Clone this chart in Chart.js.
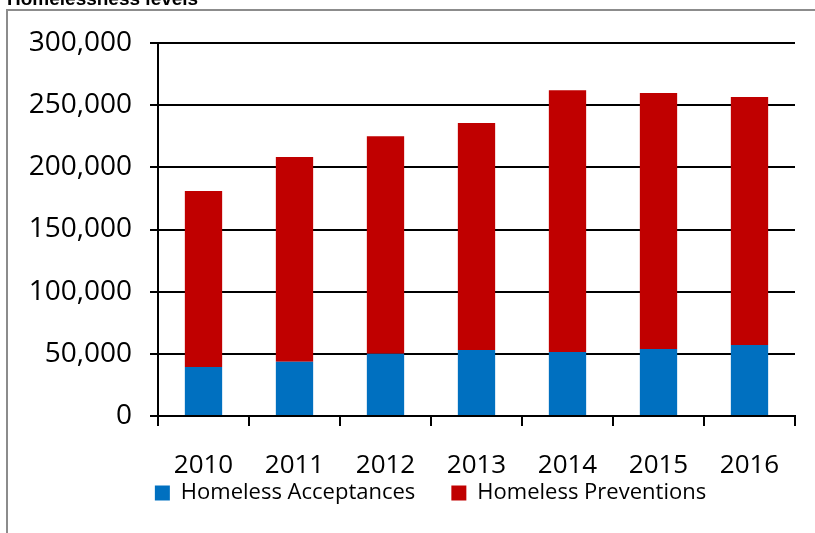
<!DOCTYPE html>
<html>
<head>
<meta charset="utf-8">
<script src="https://cdn.jsdelivr.net/npm/chart.js@4.4.1/dist/chart.umd.min.js"></script>
<style>
  html, body { margin: 0; padding: 0; background: #fff; }
  #wrap { width: 815px; height: 533px; position: relative; }
</style>
</head>
<body>
<div id="wrap"><canvas id="chart"></canvas></div>
<script>
// Data
const years = ["2010", "2011", "2012", "2013", "2014", "2015", "2016"];
const acceptances = [39400, 43700, 50100, 53000, 51500, 53900, 57100];
const preventions = [141600, 164600, 175000, 182700, 210500, 205900, 199500];
const yTicks = [0, 50000, 100000, 150000, 200000, 250000, 300000];

const FONT = "'Open Sans', 'Liberation Sans', sans-serif";

// Frame and cut-off title
const frame = {
  id: "frame",
  beforeDraw(chart) {
    const ctx = chart.ctx;
    ctx.save();
    ctx.strokeStyle = "#8c8c8c";
    ctx.lineWidth = 2;
    ctx.beginPath();
    ctx.moveTo(7, 533);
    ctx.lineTo(7, 10);
    ctx.lineTo(815, 10);
    ctx.stroke();
    ctx.fillStyle = "#000";
    ctx.font = "bold 19px 'Liberation Sans', Arial, sans-serif";
    ctx.textBaseline = "alphabetic";
    ctx.fillText("Homelessness levels", 7, 5);
    ctx.restore();
  }
};

// Legend sits tight under the year labels, a little right of centre
const legendNudge = {
  id: "legendNudge",
  afterLayout(chart) {
    const lg = chart.legend;
    lg.top -= 38;
    lg.left += 33; lg.right += 33;
  }
};

new Chart(document.getElementById("chart"), {
  type: "bar",
  data: {
    labels: years,
    datasets: [
      { label: "Homeless Acceptances", data: acceptances, backgroundColor: "#0070C0" },
      { label: "Homeless Preventions", data: preventions, backgroundColor: "#C00000" }
    ]
  },
  options: {
    responsive: true,
    maintainAspectRatio: false,
    animation: false,
    layout: { padding: { left: 0, right: 20, top: 43, bottom: 0 } },
    datasets: { bar: { barPercentage: 0.41, categoryPercentage: 1 } },
    plugins: {
      title: { display: false },
      tooltip: { enabled: false },
      legend: {
        position: "bottom",
        maxHeight: 49,
        labels: {
          color: "#000",
          font: { family: FONT, size: 22 },
          boxWidth: 15,
          boxHeight: 15,
          padding: 36
        }
      }
    },
    scales: {
      x: {
        stacked: true,
        afterFit(scale) { scale.height = 68; },
        grid: {
          offset: true,
          drawOnChartArea: false,
          color: "#000",
          lineWidth: 2,
          tickLength: 10
        },
        border: { color: "#000", width: 2 },
        ticks: {
          color: "#000",
          font: { family: FONT, size: 26 },
          padding: 24,
          maxRotation: 0
        }
      },
      y: {
        stacked: true,
        min: 0,
        max: 300000,
        afterFit(scale) { scale.width = 158; },
        afterBuildTicks(scale) { scale.ticks = yTicks.map(v => ({ value: v })); },
        grid: { color: "#000", lineWidth: 2, tickLength: 8 },
        border: { color: "#000", width: 2 },
        ticks: {
          color: "#000",
          font: { family: FONT, size: 28 },
          padding: 18,
          callback: v => v.toLocaleString("en-US")
        }
      }
    }
  },
  plugins: [frame, legendNudge]
});
</script>
</body>
</html>
